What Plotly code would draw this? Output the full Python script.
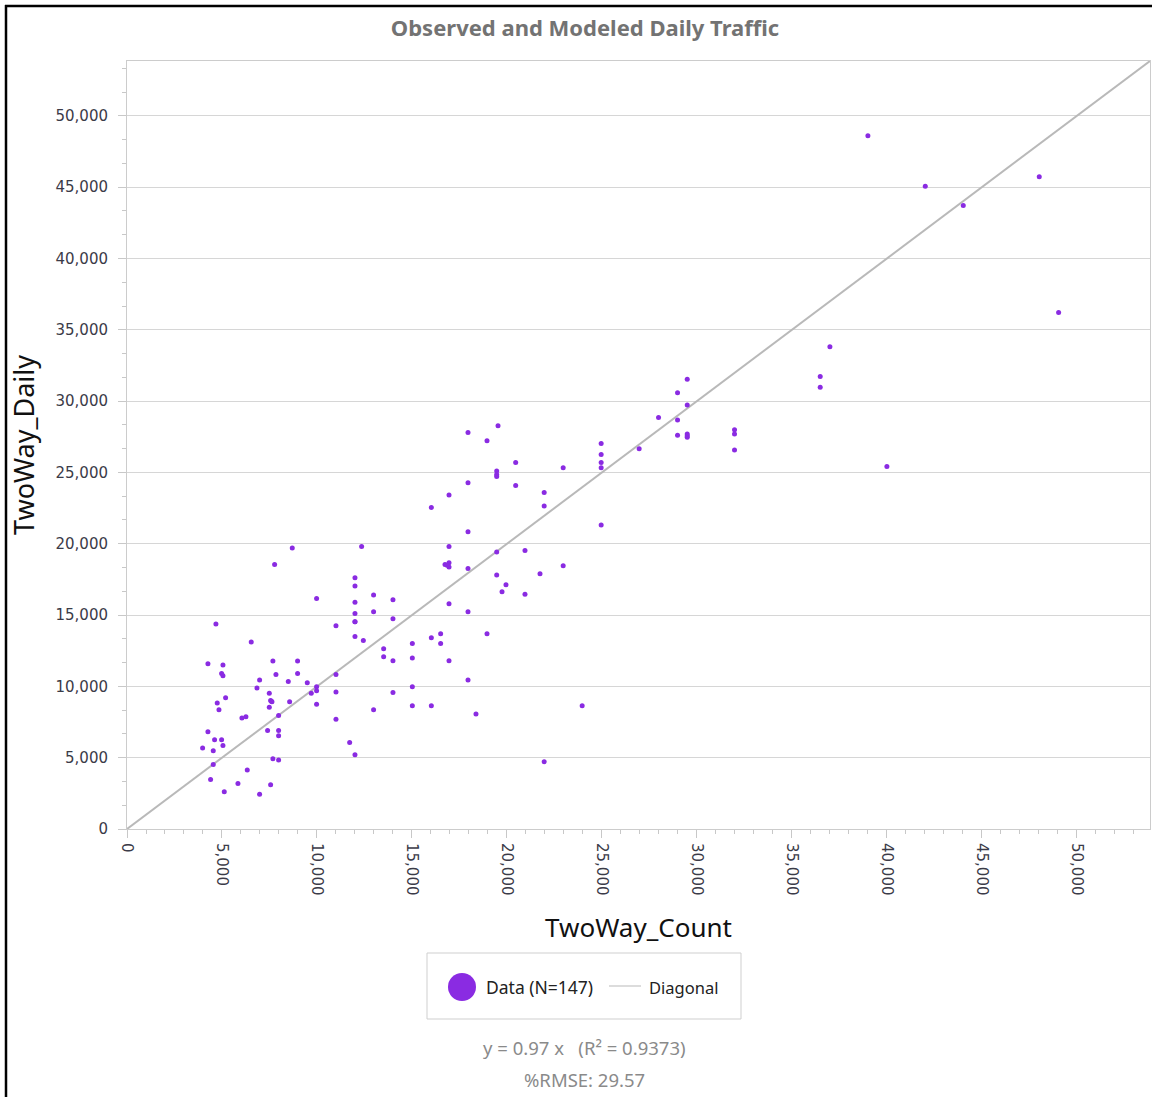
import plotly.graph_objects as go

# ---------------- data ----------------
count_x = [
    8700, 12350, 7770, 12000, 12000, 12980, 9980, 12000, 12980, 12000,
    12000, 4680, 11000, 12000, 12440, 6540, 4260, 5050, 7680, 8980,
    4980, 5050, 7840, 8980, 6980, 8490, 11000, 9490, 6840, 9980,
    7490, 9700, 9980, 11000, 5190, 4750, 7560, 7630, 8560, 7490,
    4840, 12980, 7980, 6050, 6260, 11000, 4260, 7400, 7980, 4610,
    4980, 5050, 7980, 11720, 3980, 4540, 12000, 7680, 7980, 4540,
    6330, 4400, 5840, 7560, 5120, 6980, 9980,
    17950, 16950, 16740, 16950, 16950, 17950, 19460, 19460, 14000, 14000,
    16950, 17950, 18950, 16020, 16510, 16510, 15020, 13510, 13510, 14000,
    15020, 16950, 17950, 15020, 14000, 15020, 16020, 18370,
    19530, 17950, 18950, 24960, 24960, 24960, 24960, 20460, 22960, 19460,
    19460, 17950, 20460, 16950, 21960, 21960, 16020, 24960, 20950, 22960,
    21740, 19950, 19740, 20950, 23960, 21960,
    37000, 36490, 36490, 29490, 28980, 29490, 27980, 28980, 28980, 29490,
    29490, 31980, 31980, 31980, 26960,
    39000, 42020, 44020, 48020, 49040, 40000,
    16850, 19460, 29490, 7600, 12000,
]
daily_y = [
    19700, 19800, 18550, 17620, 17040, 16410, 16160, 15900, 15230, 15110,
    14530, 14370, 14260, 13500, 13220, 13120, 11590, 11500, 11780, 11780,
    10900, 10750, 10830, 10900, 10450, 10340, 10830, 10260, 9890, 9980,
    9520, 9520, 9700, 9610, 9210, 8830, 9010, 8920, 8920, 8540,
    8360, 8360, 7960, 7780, 7870, 7690, 6820, 6910, 6910, 6260,
    6260, 5860, 6540, 6070, 5680, 5490, 5210, 4930, 4840, 4520,
    4140, 3470, 3190, 3100, 2620, 2430, 8750,
    20840, 19800, 18550, 18670, 18370, 18270, 19430, 17810, 16080, 14750,
    15790, 15230, 13690, 13410, 13690, 13010, 13010, 12630, 12070, 11790,
    11990, 11790, 10450, 9980, 9570, 8650, 8650, 8060,
    28270, 27810, 27220, 27030, 26260, 25700, 25330, 25700, 25330, 25100,
    24850, 24280, 24090, 23420, 23600, 22650, 22550, 21320, 19530, 18460,
    17900, 17130, 16640, 16460, 8650, 4720,
    33820, 31720, 30970, 31540, 30580, 29730, 28850, 28680, 27600, 27700,
    27470, 27990, 27700, 26580, 26660,
    48600, 45060, 43720, 45730, 36210, 25420,
    18500, 24720, 27580, 8960, 14540,
]
diagonal_x = [0, 53850]
diagonal_y = [0, 53850]

tick_vals = [0, 5000, 10000, 15000, 20000, 25000, 30000, 35000, 40000, 45000, 50000]

title_text = "Observed and Modeled Daily Traffic"
x_title = "TwoWay_Count"
y_title = "TwoWay_Daily"
legend_data_label = "Data (N=%d)" % len(count_x)
legend_diag_label = "Diagonal"
fit_text = "y = 0.97 x \u00a0 (R² = 0.9373)"
rmse_text = "%RMSE: 29.57"

# ---------------- layout helpers ----------------
W, H = 1152, 1097
L, R, T, B = 127, 1150, 61, 829


def px2x(px):
    return (px - L) / (R - L)


def py2y(py):
    return (B - py) / (B - T)


PURPLE = "#8A2BE2"

fig = go.Figure()
fig.add_trace(go.Scatter(
    x=diagonal_x, y=diagonal_y, mode="lines",
    line=dict(color="#b9b9b9", width=2), name=legend_diag_label,
    showlegend=False, hoverinfo="skip",
))
fig.add_trace(go.Scatter(
    x=count_x, y=daily_y, mode="markers",
    marker=dict(color=PURPLE, size=5, line=dict(width=0)),
    name=legend_data_label, showlegend=False,
))

axis_common = dict(
    showline=True, linecolor="#cccccc", linewidth=1, mirror=True,
    ticks="outside", ticklen=8, tickcolor="#c8c8c8", tickwidth=1,
    tickformat=",d", zeroline=False,
    tickfont=dict(family="DejaVu Sans", size=15, color="#3b3b48"),
    tickvals=tick_vals,
)

fig.update_xaxes(
    range=[0, 53850], showgrid=False, tickangle=90, ticklabelstandoff=2,
    minor=dict(dtick=1000, ticks="outside", ticklen=4, tickcolor="#c8c8c8", showgrid=False),
    title=dict(text=x_title, font=dict(family="Noto Sans", size=26, color="#111111"), standoff=24),
    **axis_common,
)
fig.update_yaxes(
    range=[0, 53850], showgrid=True, gridcolor="#d6d6d6", gridwidth=1, ticklabelstandoff=7,
    minor=dict(dtick=5000 / 3, ticks="outside", ticklen=4, tickcolor="#c8c8c8", showgrid=False),
    title=dict(text=y_title, font=dict(family="Noto Sans", size=27, color="#111111"), standoff=13),
    **axis_common,
)

shapes = [
    # outer black frame (left and top visible)
    dict(type="line", xref="paper", yref="paper", x0=px2x(6), x1=px2x(6), y0=py2y(H + 5), y1=py2y(5),
         line=dict(color="#000000", width=2.5)),
    dict(type="line", xref="paper", yref="paper", x0=px2x(5), x1=px2x(W + 5), y0=py2y(6), y1=py2y(6),
         line=dict(color="#000000", width=2.5)),
    # legend box
    dict(type="rect", xref="paper", yref="paper", x0=px2x(427), x1=px2x(741), y0=py2y(1019), y1=py2y(953),
         line=dict(color="#cfcfcf", width=1), fillcolor="rgba(0,0,0,0)"),
    # legend circle
    dict(type="circle", xref="paper", yref="paper", x0=px2x(448), x1=px2x(476), y0=py2y(1001), y1=py2y(973),
         line=dict(color=PURPLE, width=0), fillcolor=PURPLE),
    # legend line
    dict(type="line", xref="paper", yref="paper", x0=px2x(609), x1=px2x(641), y0=py2y(986), y1=py2y(986),
         line=dict(color="#b9b9b9", width=1)),
]

annotations = [
    dict(text=legend_data_label, xref="paper", yref="paper", x=px2x(484), y=py2y(987),
         xanchor="left", yanchor="middle", showarrow=False,
         font=dict(family="Noto Sans", size=17.5, color="#222222")),
    dict(text=legend_diag_label, xref="paper", yref="paper", x=px2x(647), y=py2y(987),
         xanchor="left", yanchor="middle", showarrow=False,
         font=dict(family="Noto Sans", size=16.5, color="#222222")),
    dict(text=fit_text, xref="paper", yref="paper", x=px2x(584), y=py2y(1047),
         xanchor="center", yanchor="middle", showarrow=False,
         font=dict(family="Noto Sans", size=18.5, color="#8a8a8a")),
    dict(text=rmse_text, xref="paper", yref="paper", x=px2x(584), y=py2y(1079),
         xanchor="center", yanchor="middle", showarrow=False,
         font=dict(family="Noto Sans", size=18.5, color="#8a8a8a")),
]

fig.update_layout(
    width=W, height=H,
    margin=dict(l=L, r=W - R, t=T, b=H - B, autoexpand=False),
    paper_bgcolor="white", plot_bgcolor="white",
    showlegend=False,
    title=dict(text="<b>" + title_text + "</b>", x=px2x(585), xref="paper",
               y=1 - 28 / H, yref="container", xanchor="center", yanchor="middle",
               font=dict(family="Noto Sans", size=22, color="#737373")),
    shapes=shapes, annotations=annotations,
)

fig.write_html(
    "out.html",
    config={"displayModeBar": False},
    post_script="document.body.style.margin='0';document.body.style.overflow='hidden';",
)
